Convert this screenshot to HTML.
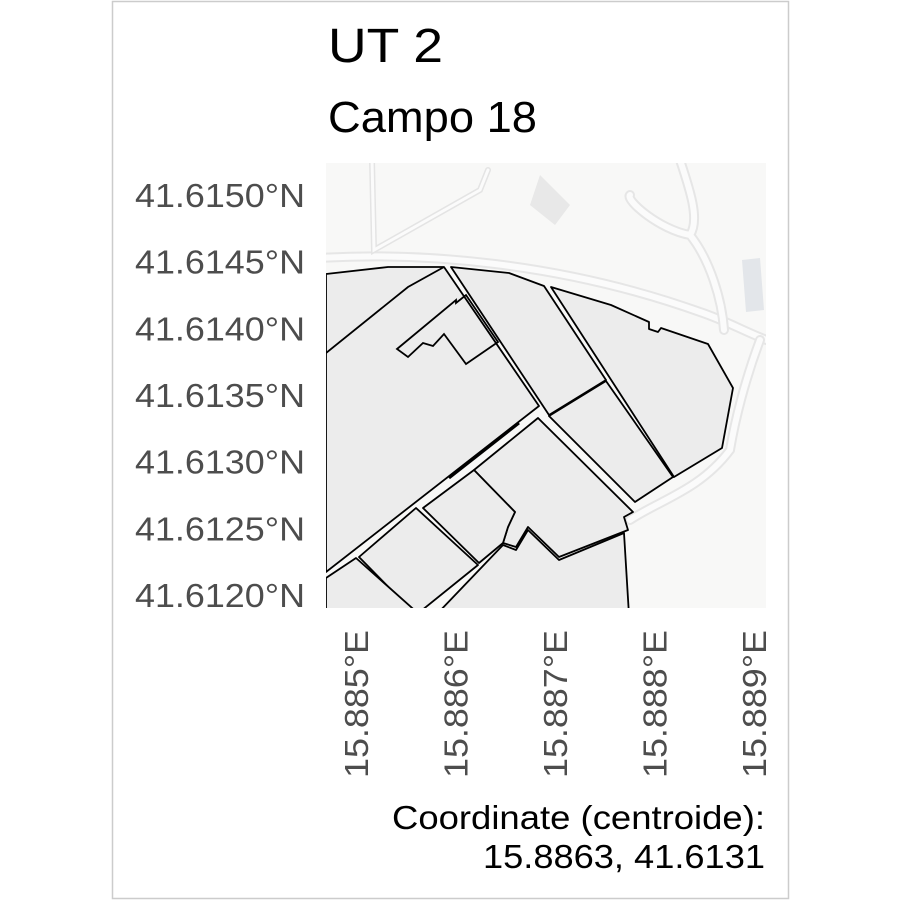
<!DOCTYPE html>
<html><head><meta charset="utf-8"><style>
html,body{margin:0;padding:0;background:#fff}
svg{display:block;font-family:"Liberation Sans",sans-serif}
</style></head><body>
<svg id="c" width="900" height="900" viewBox="0 0 900 900">
<rect x="112.5" y="1.5" width="676" height="897" fill="#fff" stroke="#cccccc" stroke-width="1.5"/>
<text x="328" y="62" font-size="48" textLength="115" lengthAdjust="spacingAndGlyphs" fill="#000">UT 2</text>
<text x="328" y="132" font-size="44" textLength="209" lengthAdjust="spacingAndGlyphs" fill="#000">Campo 18</text>
<defs><clipPath id="mc"><rect x="326" y="163" width="440" height="445"/></clipPath></defs>
<g clip-path="url(#mc)">
<rect x="326" y="163" width="440" height="445" fill="#f8f8f7"/>
<g fill="none" stroke-linecap="round">
<path d="M320,258 C420,252 560,262 700,312 C730,322 750,335 780,345" stroke="#e6e6e6" stroke-width="10"/>
<path d="M320,258 C420,252 560,262 700,312 C730,322 750,335 780,345" stroke="#fbfbfb" stroke-width="6"/>
<path d="M372,160 L374,250 L480,190 L488,170" stroke="#e4e4e4" stroke-width="6"/>
<path d="M372,160 L374,250 L480,190 L488,170" stroke="#fbfbfb" stroke-width="3"/>
<path d="M680,160 C690,190 700,220 690,235 C660,230 625,200 630,195 M690,235 C710,260 722,300 724,330 M760,340 C745,380 735,420 730,450 C700,490 660,500 630,520" stroke="#e6e6e6" stroke-width="10"/>
<path d="M680,160 C690,190 700,220 690,235 C660,230 625,200 630,195 M690,235 C710,260 722,300 724,330 M760,340 C745,380 735,420 730,450 C700,490 660,500 630,520" stroke="#fbfbfb" stroke-width="6"/>
<path d="M540,175 L570,205 L555,225 L530,205 Z" fill="#e8e8e8" stroke="none"/>
<path d="M742,260 L760,258 L764,310 L746,312 Z" fill="#e3e6ea" stroke="none"/>
</g>
<g fill="#ececec" stroke="#000" stroke-width="1.8" stroke-linejoin="round">
<path d="M326,274 L388,267 L444,267 L539,406 L326,572 Z"/>
<path d="M451,267 L509,273 L544,286 L606,380 L549,415 Z"/>
<path d="M549,416 L606,381 L673,477 L635,502 Z"/>
<path d="M551,287 L611,305 L649,322 L649,329 L658,332 L661,328 L708,344 L733,388 L722,448 L674,477 Z"/>
<path d="M538,418 L633,512 L624,517 L628,530 L559,557 L528,527 L516,547 L503,543 L508,527 L515,512 L474,470 Z"/>
<path d="M423,508 L474,470 L515,512 L508,527 L503,543 L479,563 Z"/>
<path d="M359,557 L416,508 L478,565 L416,615 Z"/>
<path d="M326,578 L356,558 L420,615 L326,615 Z"/>
<path d="M436,615 L503,545 L516,550 L528,530 L559,560 L624,533 L629,615 Z"/>
</g>
<g fill="none" stroke="#000" stroke-width="1.8">
<path d="M326,353 L408,287 L444,267"/>
<path d="M397,349 L456,300 L456,303 L466,295 L498,342 L466,364 L444,334 L433,346 L423,343 L408,357 Z"/>
<path d="M449,478 L519,423" stroke-width="3"/>
</g>
</g>
<g id="yax" font-size="33" fill="#4d4d4d" text-anchor="end"></g>
<g id="xax" font-size="33" fill="#4d4d4d"></g>
<text x="765" y="829" font-size="33" textLength="373" lengthAdjust="spacingAndGlyphs" text-anchor="end" fill="#000">Coordinate (centroide):</text>
<text x="765" y="868" font-size="33" textLength="282" lengthAdjust="spacingAndGlyphs" text-anchor="end" fill="#000">15.8863, 41.6131</text>
</svg>
<script>
const yTicks=[41.6150,41.6145,41.6140,41.6135,41.6130,41.6125,41.6120];
const yTickLabels=["41.6150°N","41.6145°N","41.6140°N","41.6135°N","41.6130°N","41.6125°N","41.6120°N"];
const xTicks=[15.885,15.886,15.887,15.888,15.889];
const xTickLabels=["15.885°E","15.886°E","15.887°E","15.888°E","15.889°E"];
const NS="http://www.w3.org/2000/svg";
function yScale(v){return 195+(41.6150-v)/0.0005*66.67;}
function xScale(v){return 356+(v-15.885)/0.001*99.5;}
const ya=document.getElementById('yax'),xa=document.getElementById('xax');
yTicks.forEach((v,i)=>{const t=document.createElementNS(NS,'text');


t.setAttribute('x',305);t.setAttribute('y',yScale(v)+12);
t.setAttribute('textLength',170);t.setAttribute('lengthAdjust','spacingAndGlyphs');
t.textContent=yTickLabels[i];ya.appendChild(t);});
xTicks.forEach((v,i)=>{const t=document.createElementNS(NS,'text');


const x=xScale(v)+12;t.setAttribute('transform','translate('+x+',630) rotate(-90)');
t.setAttribute('textLength',148);t.setAttribute('lengthAdjust','spacingAndGlyphs');
t.setAttribute('text-anchor','end');t.textContent=xTickLabels[i];xa.appendChild(t);});
</script>
</body></html>
